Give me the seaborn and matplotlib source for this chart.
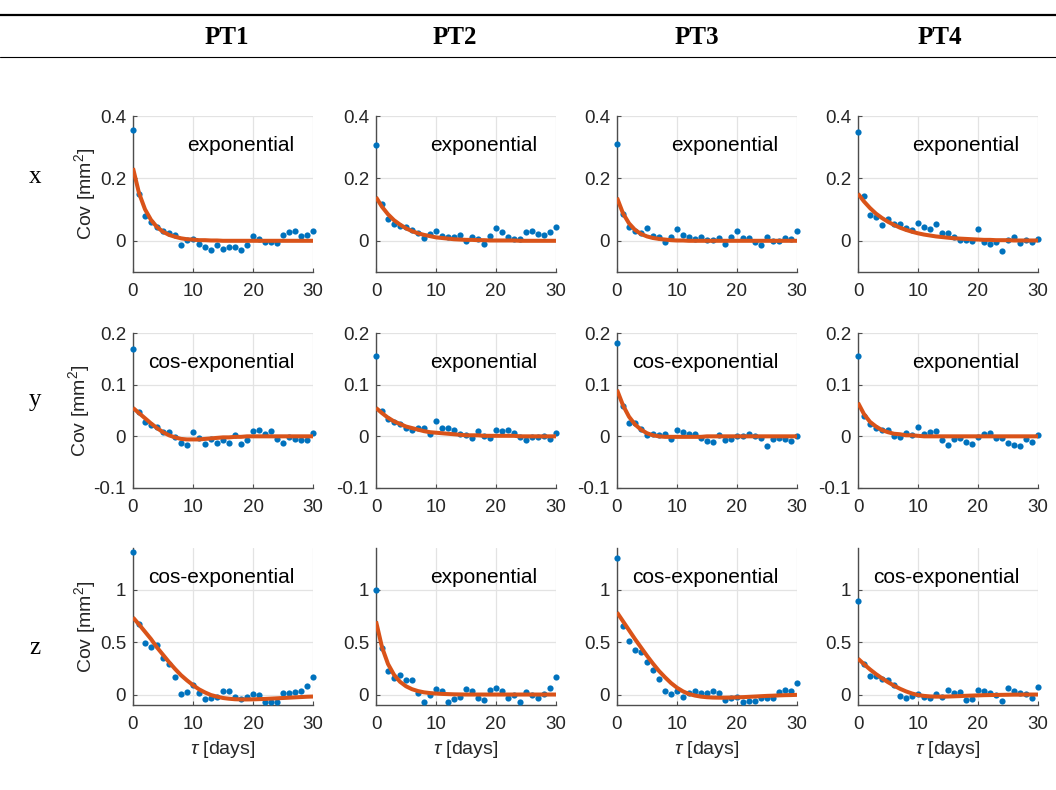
import numpy as np
import pandas as pd
import matplotlib
matplotlib.use("Agg")
import matplotlib.pyplot as plt
from matplotlib.lines import Line2D
import seaborn as sns

# ---------------- data ----------------
tau = np.arange(0, 31)
stations = ["PT1", "PT2", "PT3", "PT4"]
components = ["x", "y", "z"]

cov_x_pt1 = [0.356, 0.150, 0.078, 0.059, 0.045, 0.033, 0.025, 0.017, -0.013, 0.001, 0.005, -0.010, -0.019, -0.031, -0.013, -0.025,
             -0.019, -0.019, -0.031, -0.015, 0.016, 0.005, -0.004, -0.004, -0.006, 0.018, 0.028, 0.030, 0.016, 0.020, 0.032]
cov_x_pt2 = [0.306, 0.119, 0.070, 0.055, 0.048, 0.044, 0.035, 0.025, 0.009, 0.022, 0.033, 0.016, 0.012, 0.013, 0.020, -0.002,
             0.011, 0.006, -0.011, 0.014, 0.042, 0.027, 0.012, 0.007, 0.005, 0.027, 0.032, 0.021, 0.018, 0.027, 0.043]
cov_x_pt3 = [0.310, 0.087, 0.044, 0.032, 0.025, 0.041, 0.014, 0.012, -0.005, 0.011, 0.037, 0.019, 0.011, 0.006, 0.013, 0.004,
             0.004, 0.010, -0.009, 0.011, 0.031, 0.010, 0.009, -0.003, -0.012, 0.013, -0.001, -0.002, 0.009, 0.005, 0.031]
cov_x_pt4 = [0.350, 0.142, 0.084, 0.076, 0.050, 0.070, 0.055, 0.053, 0.042, 0.034, 0.057, 0.044, 0.037, 0.053, 0.026, 0.025,
             0.013, 0.002, 0.004, -0.002, 0.037, -0.004, -0.010, -0.005, -0.032, 0.002, 0.011, -0.007, 0.003, -0.005, 0.005]

cov_y_pt1 = [0.170, 0.047, 0.027, 0.021, 0.018, 0.008, 0.008, -0.001, -0.012, -0.017, 0.008, -0.003, -0.014, -0.006, -0.012, -0.008,
             -0.013, 0.003, -0.015, -0.008, 0.010, 0.012, 0.005, 0.010, -0.006, -0.013, -0.001, -0.005, -0.008, -0.008, 0.006]
cov_y_pt2 = [0.156, 0.050, 0.034, 0.027, 0.023, 0.016, 0.013, 0.016, 0.017, 0.005, 0.029, 0.017, 0.016, 0.012, 0.004, 0.003,
             -0.004, 0.010, 0.000, -0.003, 0.013, 0.010, 0.012, 0.006, -0.001, -0.008, -0.001, -0.002, 0.001, -0.006, 0.006]
cov_y_pt3 = [0.180, 0.058, 0.026, 0.025, 0.014, 0.003, 0.005, 0.003, 0.005, -0.006, 0.013, 0.008, 0.005, 0.005, -0.003, -0.009,
             -0.011, 0.002, -0.008, -0.005, 0.001, 0.001, 0.005, 0.001, -0.003, -0.018, -0.006, -0.003, -0.005, -0.009, 0.000]
cov_y_pt4 = [0.156, 0.039, 0.023, 0.016, 0.012, 0.013, 0.001, -0.002, 0.006, 0.003, 0.018, 0.005, 0.009, 0.010, -0.008, -0.016,
             -0.005, -0.004, -0.011, -0.014, -0.001, 0.005, 0.006, -0.004, -0.003, -0.012, -0.017, -0.018, -0.005, -0.011, 0.002]

cov_z_pt1 = [1.363, 0.678, 0.495, 0.457, 0.473, 0.350, 0.293, 0.164, 0.003, 0.023, 0.087, 0.013, -0.042, -0.035, -0.026, 0.035,
             0.035, -0.019, -0.045, -0.023, 0.006, -0.006, -0.068, -0.068, -0.071, 0.019, 0.013, 0.023, 0.035, 0.077, 0.164]
cov_z_pt2 = [1.000, 0.449, 0.221, 0.160, 0.189, 0.135, 0.141, 0.013, -0.067, -0.003, 0.054, 0.029, -0.067, -0.042, -0.019, 0.054,
             0.038, -0.029, -0.051, 0.045, 0.067, 0.038, -0.035, 0.000, -0.074, 0.022, -0.003, -0.035, 0.003, 0.064, 0.163]
cov_z_pt3 = [1.304, 0.657, 0.516, 0.429, 0.407, 0.311, 0.237, 0.151, 0.029, 0.003, 0.038, -0.019, 0.016, 0.029, 0.010, 0.019,
             0.029, 0.013, -0.048, -0.032, -0.026, -0.074, -0.058, -0.058, -0.035, -0.032, -0.032, 0.022, 0.048, 0.029, 0.112]
cov_z_pt4 = [0.894, 0.295, 0.173, 0.176, 0.144, 0.141, 0.093, -0.016, -0.032, -0.010, 0.006, -0.026, -0.032, 0.006, -0.019, 0.048,
             0.016, 0.022, -0.054, -0.045, 0.048, 0.038, 0.019, 0.000, -0.061, 0.067, 0.032, 0.016, 0.003, -0.035, 0.071]

fit_x_pt1 = [0.233, 0.153, 0.101, 0.067, 0.044, 0.029, 0.019, 0.013, 0.008, 0.005, 0.004, 0.002, 0.002, 0.001, 0.001, 0.000,
             0.000, 0.000, 0.000, 0.000, 0.000, 0.000, 0.000, 0.000, 0.000, 0.000, 0.000, 0.000, 0.000, 0.000, 0.000]
fit_x_pt2 = [0.140, 0.109, 0.085, 0.066, 0.052, 0.040, 0.031, 0.024, 0.019, 0.015, 0.011, 0.009, 0.007, 0.005, 0.004, 0.003,
             0.003, 0.002, 0.002, 0.001, 0.001, 0.001, 0.001, 0.001, 0.000, 0.000, 0.000, 0.000, 0.000, 0.000, 0.000]
fit_x_pt3 = [0.138, 0.088, 0.056, 0.035, 0.022, 0.014, 0.009, 0.006, 0.004, 0.002, 0.001, 0.001, 0.000, 0.000, 0.000, 0.000,
             0.000, 0.000, 0.000, 0.000, 0.000, 0.000, 0.000, 0.000, 0.000, 0.000, 0.000, 0.000, 0.000, 0.000, 0.000]
fit_x_pt4 = [0.151, 0.126, 0.105, 0.087, 0.073, 0.061, 0.051, 0.042, 0.035, 0.029, 0.024, 0.020, 0.017, 0.014, 0.012, 0.010,
             0.008, 0.007, 0.006, 0.005, 0.004, 0.003, 0.003, 0.002, 0.002, 0.002, 0.001, 0.001, 0.001, 0.001, 0.001]

fit_y_pt1 = [0.055, 0.045, 0.035, 0.025, 0.016, 0.008, 0.002, -0.002, -0.005, -0.006, -0.006, -0.006, -0.005, -0.004, -0.003, -0.002,
             -0.002, -0.001, -0.001, 0.000, 0.000, 0.000, 0.000, 0.000, 0.000, 0.000, 0.000, 0.000, 0.000, 0.000, 0.000]
fit_y_pt2 = [0.055, 0.045, 0.036, 0.029, 0.024, 0.019, 0.016, 0.013, 0.010, 0.008, 0.007, 0.006, 0.005, 0.004, 0.003, 0.002,
             0.002, 0.002, 0.001, 0.001, 0.001, 0.001, 0.001, 0.001, 0.000, 0.000, 0.000, 0.000, 0.000, 0.000, 0.000]
fit_y_pt3 = [0.090, 0.060, 0.038, 0.023, 0.013, 0.006, 0.002, 0.000, -0.001, -0.001, -0.001, -0.001, -0.001, -0.001, -0.001, 0.000,
             0.000, 0.000, 0.000, 0.000, 0.000, 0.000, 0.000, 0.000, 0.000, 0.000, 0.000, 0.000, 0.000, 0.000, 0.000]
fit_y_pt4 = [0.065, 0.043, 0.028, 0.019, 0.012, 0.008, 0.005, 0.004, 0.002, 0.002, 0.001, 0.000, 0.000, 0.000, 0.000, 0.000,
             0.000, 0.000, 0.000, 0.000, 0.000, 0.000, 0.000, 0.000, 0.000, 0.000, 0.000, 0.000, 0.000, 0.000, 0.000]

fit_z_pt1 = [0.736, 0.670, 0.600, 0.530, 0.450, 0.380, 0.310, 0.245, 0.185, 0.135, 0.090, 0.050, 0.020, -0.005, -0.020, -0.033,
             -0.040, -0.045, -0.047, -0.047, -0.046, -0.044, -0.042, -0.039, -0.036, -0.033, -0.030, -0.027, -0.024, -0.021, -0.019]
fit_z_pt2 = [0.700, 0.452, 0.292, 0.189, 0.122, 0.079, 0.051, 0.033, 0.021, 0.014, 0.009, 0.006, 0.004, 0.002, 0.001, 0.000,
             0.000, 0.000, 0.000, 0.000, 0.000, 0.000, 0.000, 0.000, 0.000, 0.000, 0.000, 0.000, 0.000, 0.000, 0.000]
fit_z_pt3 = [0.785, 0.700, 0.615, 0.530, 0.450, 0.370, 0.295, 0.225, 0.165, 0.110, 0.065, 0.030, 0.005, -0.010, -0.020, -0.026,
             -0.029, -0.030, -0.030, -0.029, -0.027, -0.025, -0.022, -0.019, -0.016, -0.013, -0.011, -0.008, -0.006, -0.005, -0.003]
fit_z_pt4 = [0.343, 0.290, 0.240, 0.195, 0.155, 0.118, 0.085, 0.055, 0.030, 0.010, -0.005, -0.013, -0.018, -0.020, -0.020, -0.019,
             -0.017, -0.015, -0.012, -0.010, -0.008, -0.006, -0.005, -0.004, -0.003, -0.002, -0.001, -0.001, 0.000, 0.000, 0.000]

models_x = ["exponential", "exponential", "exponential", "exponential"]
models_y = ["cos-exponential", "exponential", "cos-exponential", "exponential"]
models_z = ["cos-exponential", "exponential", "cos-exponential", "cos-exponential"]

ylims = {"x": (-0.1, 0.4), "y": (-0.1, 0.2), "z": (-0.1, 1.4)}
yticks = {"x": [0, 0.2, 0.4], "y": [-0.1, 0, 0.1, 0.2], "z": [0, 0.5, 1]}
yticklabels = {"x": ["0", "0.2", "0.4"], "y": ["-0.1", "0", "0.1", "0.2"], "z": ["0", "0.5", "1"]}
xticks = [0, 10, 20, 30]
xticklabels = ["0", "10", "20", "30"]

cov = {"x": [cov_x_pt1, cov_x_pt2, cov_x_pt3, cov_x_pt4],
       "y": [cov_y_pt1, cov_y_pt2, cov_y_pt3, cov_y_pt4],
       "z": [cov_z_pt1, cov_z_pt2, cov_z_pt3, cov_z_pt4]}
fit = {"x": [fit_x_pt1, fit_x_pt2, fit_x_pt3, fit_x_pt4],
       "y": [fit_y_pt1, fit_y_pt2, fit_y_pt3, fit_y_pt4],
       "z": [fit_z_pt1, fit_z_pt2, fit_z_pt3, fit_z_pt4]}
models = {"x": models_x, "y": models_y, "z": models_z}

# ---------------- style ----------------
sns.set_style("white")
plt.rcParams["font.family"] = ["Liberation Sans", "DejaVu Sans"]
plt.rcParams["mathtext.fontset"] = "custom"
plt.rcParams["mathtext.rm"] = "Liberation Sans"
plt.rcParams["mathtext.it"] = "Liberation Sans:italic"

BLUE = "#0072BD"
ORANGE = "#D95319"
TXT = "#262626"
AXC = "#4d4d4d"
GRID = "#e3e3e3"

W, H = 1056, 790
fig = plt.figure(figsize=(W / 100, H / 100), dpi=100)

col_px = [(133, 313), (376, 556), (617, 797), (858, 1038)]
row_px = [(116, 272), (333, 488), (548, 705)]

for r, comp in enumerate(components):
    t, b = row_px[r]
    for c, st in enumerate(stations):
        l, rr = col_px[c]
        ax = fig.add_axes([l / W, 1 - b / H, (rr - l) / W, (b - t) / H])
        df = pd.DataFrame({"tau": tau, "cov": cov[comp][c], "fit": fit[comp][c]})
        sns.scatterplot(data=df, x="tau", y="cov", ax=ax, color=BLUE, s=20,
                        linewidth=0, zorder=3, clip_on=False)
        sns.lineplot(data=df, x="tau", y="fit", ax=ax, color=ORANGE, lw=2.9,
                     zorder=4, solid_capstyle="butt")
        ax.set_xlim(0, 30)
        ax.set_ylim(*ylims[comp])
        ax.set_xticks(xticks)
        ax.set_xticklabels(xticklabels)
        ax.set_yticks(yticks[comp])
        ax.set_yticklabels(yticklabels[comp])
        ax.grid(True, color=GRID, lw=0.9, zorder=0)
        ax.set_axisbelow(True)
        for s in ["top", "right"]:
            ax.spines[s].set_visible(False)
        for s in ["left", "bottom"]:
            ax.spines[s].set_color(AXC)
            ax.spines[s].set_linewidth(1.0)
        ax.tick_params(axis="both", direction="in", length=3, width=0.8,
                       colors=AXC, labelcolor=TXT, labelsize=13.5,
                       left=True, bottom=True)
        ax.tick_params(axis="x", pad=8)
        ax.tick_params(axis="y", pad=5)
        ax.set_xlabel("")
        ax.set_ylabel("")
        if c == 0:
            ax.set_ylabel("Cov [mm$^2$]", fontsize=14, color=TXT, labelpad=1)
        if r == 2:
            ax.set_xlabel(r"$\tau$ [days]", fontsize=14, color=TXT, labelpad=4)
        ax.text(0.895, 0.81, models[comp][c], transform=ax.transAxes,
                ha="right", va="center", fontsize=15, color="black")

# header lines and labels
fig.add_artist(Line2D([0, 1], [1 - 15 / H, 1 - 15 / H], color="black", lw=1.6))
fig.add_artist(Line2D([0, 1], [1 - 57 / H, 1 - 57 / H], color="black", lw=0.8))
header_x = [227, 455, 697, 940]
for st, hx in zip(stations, header_x):
    fig.text(hx / W, 1 - 37 / H, st, ha="center", va="center",
             fontsize=18, fontweight="bold", family="Liberation Serif", color="black")
row_y = [177, 400, 648]
for comp, ry in zip(components, row_y):
    fig.text(35 / W, 1 - ry / H, comp, ha="center", va="center",
             fontsize=18, family="Liberation Serif", color="black")

fig.savefig("out.png", dpi=100)
